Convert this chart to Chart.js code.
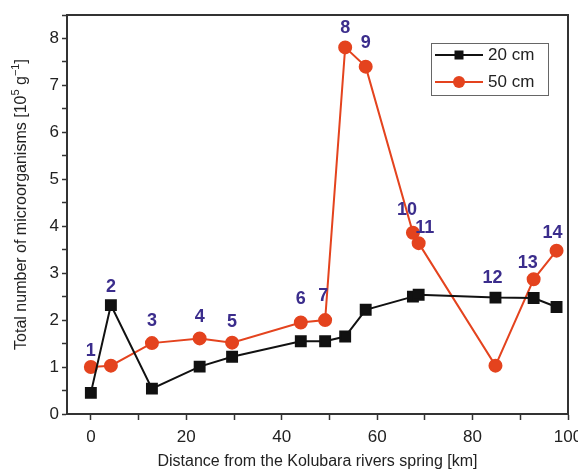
<!DOCTYPE html>
<html>
<head>
<meta charset="utf-8">
<script src="https://cdn.jsdelivr.net/npm/chart.js@4"></script>
<style>
  html, body { margin: 0; padding: 0; background: #fff; }
  #wrap { width: 578px; height: 471px; }
</style>
</head>
<body>
<div id="wrap"><canvas id="chart" width="578" height="471"></canvas></div>
<script>
// sites along the river (point numbers)
const sites = ["1", "2", "3", "4", "5", "6", "7", "8", "9", "10", "11", "12", "13", "14"];
// distance from the spring [km]
const distance = [0, 4.2, 12.8, 22.8, 29.6, 44.0, 49.1, 53.3, 57.6, 67.5, 68.7, 84.8, 92.8, 97.6];
// total number of microorganisms [10^5 g^-1]
const depth20 = [0.45, 2.32, 0.54, 1.01, 1.22, 1.55, 1.55, 1.65, 2.22, 2.50, 2.54, 2.48, 2.47, 2.28];
const depth50 = [1.00, 1.03, 1.51, 1.61, 1.52, 1.95, 2.00, 7.81, 7.40, 3.86, 3.64, 1.03, 2.87, 3.48];
const seriesNames = ["20 cm", "50 cm"];

const colors = {
  axis: "#333333",
  text: "#222222",
  black: "#111111",
  red: "#e4431e",
  label: "#3b2d8c",
  legendBorder: "#666666",
};
const fontFamily = "'Liberation Sans', Arial, Helvetica, sans-serif";

// where each site number is drawn: which series it sits on, and a small offset
const labelPlacement = [
  { ds: 1, dx: 0, dy: -16 },
  { ds: 0, dx: 0, dy: -18 },
  { ds: 1, dx: 0, dy: -22 },
  { ds: 1, dx: 0, dy: -21 },
  { ds: 1, dx: 0, dy: -21 },
  { ds: 1, dx: 0, dy: -23 },
  { ds: 1, dx: -2, dy: -24 },
  { ds: 1, dx: 0, dy: -19 },
  { ds: 1, dx: 0, dy: -24 },
  { ds: 1, dx: -6, dy: -23 },
  { ds: 1, dx: 6, dy: -15 },
  { ds: 0, dx: -3, dy: -20 },
  { ds: 1, dx: -6, dy: -16 },
  { ds: 1, dx: -4, dy: -18 },
];

function toPoints(xs, ys) {
  return xs.map((x, i) => ({ x: x, y: ys[i] }));
}

// top and right sides of the frame
const framePlugin = {
  id: "frame",
  afterDraw(chart) {
    const { ctx, chartArea: a } = chart;
    ctx.save();
    ctx.strokeStyle = colors.axis;
    ctx.lineWidth = 2;
    ctx.beginPath();
    ctx.moveTo(a.left, a.top);
    ctx.lineTo(a.right, a.top);
    ctx.lineTo(a.right, a.bottom);
    ctx.stroke();
    ctx.restore();
  }
};

// site numbers above the points
const siteLabels = {
  id: "siteLabels",
  afterDatasetsDraw(chart) {
    const ctx = chart.ctx;
    ctx.save();
    ctx.font = "bold 18px " + fontFamily;
    ctx.fillStyle = colors.label;
    ctx.textAlign = "center";
    ctx.textBaseline = "middle";
    sites.forEach((s, i) => {
      const p = labelPlacement[i];
      const el = chart.getDatasetMeta(p.ds).data[i];
      ctx.fillText(s, el.x + p.dx, el.y + p.dy);
    });
    ctx.restore();
  }
};

// boxed legend in the upper right corner
const boxLegend = {
  id: "boxLegend",
  afterDraw(chart) {
    const { ctx, chartArea: a } = chart;
    const w = 117, h = 52;
    const x0 = a.right - 20 - w, y0 = a.top + 28;
    ctx.save();
    ctx.strokeStyle = colors.legendBorder;
    ctx.lineWidth = 1;
    ctx.strokeRect(x0 + 0.5, y0 + 0.5, w, h);
    ctx.font = "17px " + fontFamily;
    ctx.textBaseline = "middle";
    ctx.fillStyle = colors.text;
    chart.data.datasets.forEach((ds, i) => {
      const cy = y0 + 12 + i * 27;
      ctx.strokeStyle = ds.borderColor;
      ctx.lineWidth = 2;
      ctx.beginPath();
      ctx.moveTo(x0 + 4, cy);
      ctx.lineTo(x0 + 52, cy);
      ctx.stroke();
      ctx.fillStyle = ds.pointBackgroundColor;
      ctx.beginPath();
      if (ds.pointStyle === "rect") {
        ctx.rect(x0 + 28 - 4.5, cy - 4.5, 9, 9);
      } else {
        ctx.arc(x0 + 28, cy, 6, 0, Math.PI * 2);
      }
      ctx.fill();
      ctx.fillStyle = colors.text;
      ctx.fillText(ds.label, x0 + 57, cy);
    });
    ctx.restore();
  }
};

// y axis title with superscripts
const yTitle = {
  id: "yTitle",
  afterDraw(chart) {
    const { ctx, chartArea: a } = chart;
    const parts = [
      { t: "Total number of microorganisms [10", sup: false },
      { t: "5", sup: true },
      { t: " g", sup: false },
      { t: "\u22121", sup: true },
      { t: "]", sup: false },
    ];
    const big = "16px " + fontFamily, small = "11px " + fontFamily;
    ctx.save();
    let total = 0;
    parts.forEach(p => { ctx.font = p.sup ? small : big; total += ctx.measureText(p.t).width; });
    ctx.translate(22, (a.top + a.bottom) / 2 - 10);
    ctx.rotate(-Math.PI / 2);
    ctx.fillStyle = colors.text;
    ctx.textBaseline = "middle";
    let x = -total / 2;
    parts.forEach(p => {
      ctx.font = p.sup ? small : big;
      ctx.fillText(p.t, x, p.sup ? -6 : 0);
      x += ctx.measureText(p.t).width;
    });
    ctx.restore();
  }
};

const ctx = document.getElementById("chart").getContext("2d");
new Chart(ctx, {
  type: "line",
  data: {
    datasets: [
      {
        label: seriesNames[0],
        data: toPoints(distance, depth20),
        borderColor: colors.black,
        backgroundColor: colors.black,
        pointBackgroundColor: colors.black,
        pointBorderColor: colors.black,
        pointStyle: "rect",
        pointRadius: 7,
        borderWidth: 2,
        tension: 0,
        order: 1,
      },
      {
        label: seriesNames[1],
        data: toPoints(distance, depth50),
        borderColor: colors.red,
        backgroundColor: colors.red,
        pointBackgroundColor: colors.red,
        pointBorderColor: colors.red,
        pointStyle: "circle",
        pointRadius: 6,
        borderWidth: 2,
        tension: 0,
        order: 2,
      }
    ]
  },
  options: {
    responsive: false,
    animation: false,
    devicePixelRatio: 1,
    layout: { padding: { top: 15, right: 10, left: 0, bottom: 0 } },
    plugins: {
      legend: { display: false },
      tooltip: { enabled: false },
      title: { display: false },
    },
    scales: {
      x: {
        type: "linear",
        min: -5,
        max: 100,
        afterFit(scale) {
          scale.height = 57;
          scale.paddingRight = 0;
          scale.paddingLeft = 0;
        },
        border: { display: true, color: colors.axis, width: 2 },
        grid: { drawOnChartArea: false, drawTicks: true, tickLength: 6, tickColor: colors.axis, tickWidth: 1.5 },
        ticks: {
          stepSize: 10,
          includeBounds: false,
          autoSkip: false,
          maxRotation: 0,
          padding: 7,
          color: colors.text,
          font: { family: fontFamily, size: 17 },
          callback: v => (v % 20 === 0 ? v : ""),
        },
        title: {
          display: true,
          text: "Distance from the Kolubara rivers spring [km]",
          color: colors.text,
          font: { family: fontFamily, size: 16 },
          padding: { top: 2, bottom: 0 },
        },
      },
      y: {
        min: 0,
        max: 8.5,
        afterFit(scale) { scale.width = 67; },
        border: { display: true, color: colors.axis, width: 2 },
        grid: { drawOnChartArea: false, drawTicks: true, tickLength: 5, tickColor: colors.axis, tickWidth: 1.5 },
        ticks: {
          stepSize: 0.5,
          autoSkip: false,
          padding: 3,
          color: colors.text,
          font: { family: fontFamily, size: 17 },
          callback: v => (Number.isInteger(v) ? v : ""),
        },
      },
    },
  },
  plugins: [framePlugin, siteLabels, boxLegend, yTitle],
});
</script>
</body>
</html>
